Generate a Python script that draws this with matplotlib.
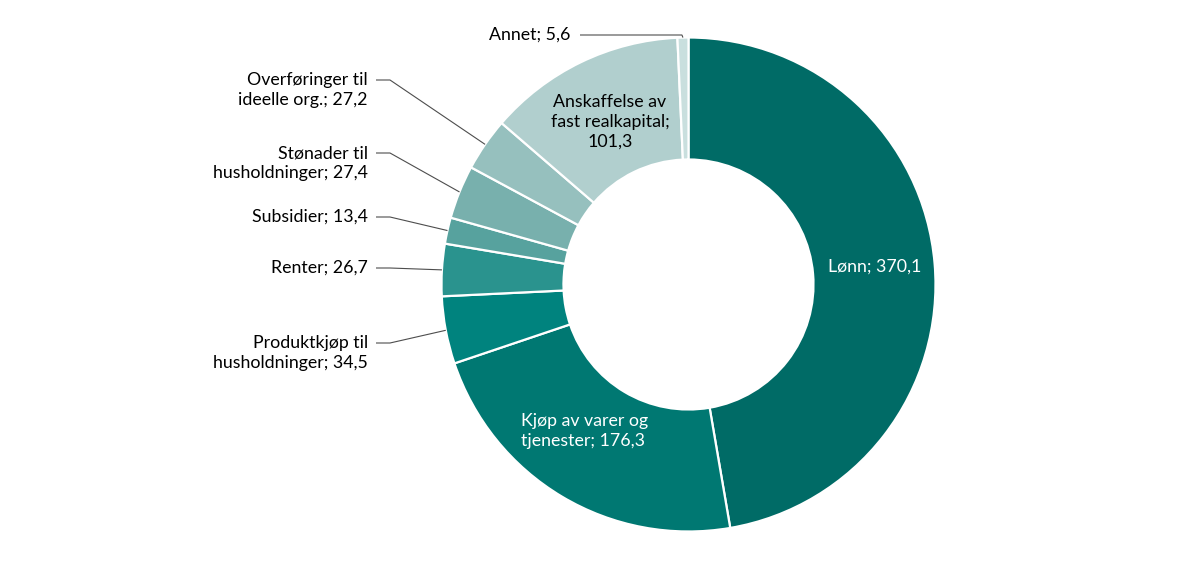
import matplotlib
matplotlib.use("Agg")
import matplotlib.pyplot as plt
import numpy as np

categories = ["Lønn", "Kjøp av varer og tjenester", "Produktkjøp til husholdninger",
              "Renter", "Subsidier", "Stønader til husholdninger",
              "Overføringer til ideelle org.", "Anskaffelse av fast realkapital", "Annet"]
values = [370.1, 176.3, 34.5, 26.7, 13.4, 27.4, 27.2, 101.3, 5.6]
labels = ["Lønn; 370,1", "Kjøp av varer og\ntjenester; 176,3", "Produktkjøp til\nhusholdninger; 34,5",
          "Renter; 26,7", "Subsidier; 13,4", "Stønader til\nhusholdninger; 27,4",
          "Overføringer til\nideelle org.; 27,2", "Anskaffelse av\nfast realkapital;\n101,3", "Annet; 5,6"]
colors = ["#006b66", "#007872", "#00837e", "#2a938e", "#57a29e",
          "#78b0ad", "#96c0be", "#b1cfce", "#c9dfde"]

W, H = 1200, 569
plt.rcParams['font.family'] = ['Lato', 'DejaVu Sans']
fig = plt.figure(figsize=(W / 100, H / 100), dpi=100)
ax = fig.add_axes([0, 0, 1, 1])

cx, cy_px, R, r_in = 688.5, 284.5, 247, 125
def Y(p):
    return H - p

wedges, _ = ax.pie(values, colors=colors, startangle=90, counterclock=False,
                   radius=R, center=(cx, Y(cy_px)),
                   wedgeprops=dict(width=R - r_in, edgecolor="white", linewidth=1.6))
ax.set_xlim(0, W)
ax.set_ylim(0, H)
ax.set_aspect('auto')
ax.axis('off')

fs = 12.8
ls = 1.3
# Inside labels
ax.text(875, Y(267), labels[0], color="white", fontsize=fs, ha="center", va="center")
ax.text(521, Y(431), labels[1], color="white", fontsize=fs, ha="left", va="center",
        linespacing=ls)
ax.text(610, Y(122), labels[7], color="black", fontsize=fs, ha="center", va="center",
        linespacing=ls)

def outer_mid(i):
    tot = sum(values)
    c0 = sum(values[:i]) / tot
    c1 = sum(values[:i + 1]) / tot
    a = (c0 + c1) / 2 * 2 * np.pi
    return cx + R * np.sin(a), Y(cy_px - R * np.cos(a))

line_kw = dict(color="#4d4d4d", lw=0.8, solid_capstyle="butt")
# Left labels: (index, text center y, leader y)
left = [(6, 90, 80), (5, 163, 153), (4, 217, 217), (3, 268, 268), (2, 353, 343)]
for i, ty, ly in left:
    ax.text(368, Y(ty), labels[i], color="black", fontsize=fs, ha="right", va="center",
            multialignment="right", linespacing=ls)
    px, py = outer_mid(i)
    ax.plot([376, 390, px], [Y(ly), Y(ly), py], **line_kw)

# Annet
ax.text(570, Y(35), labels[8], color="black", fontsize=fs, ha="right", va="center")
px, py = outer_mid(8)
ax.plot([580, px - 1, px], [Y(35), Y(35), py], **line_kw)

fig.savefig("out.png", dpi=100)
